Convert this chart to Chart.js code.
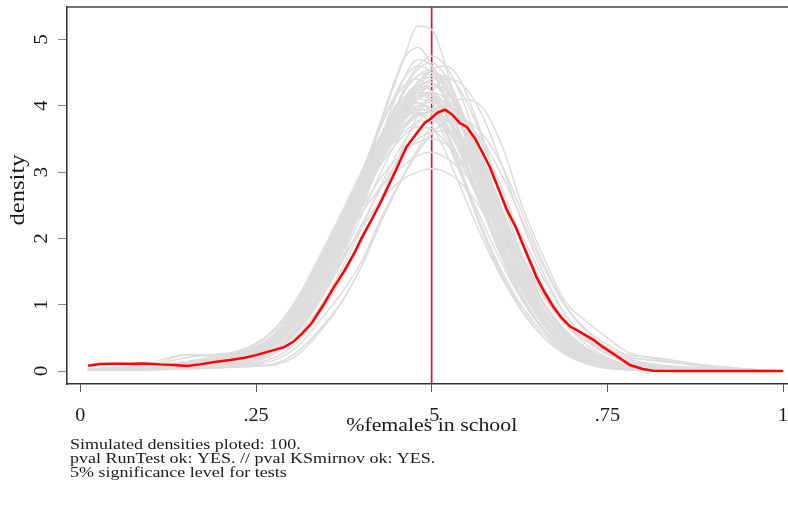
<!DOCTYPE html>
<html>
<head>
<meta charset="utf-8">
<script src="https://cdn.jsdelivr.net/npm/chart.js@4.4.1/dist/chart.umd.min.js"></script>
<style>
  html, body { margin: 0; padding: 0; background: #fff; }
</style>
</head>
<body>
<canvas id="densityChart" width="788" height="505"></canvas>
<script>
// x grid shared by the simulated density curves
const gridX = [0.01, 0.05, 0.10, 0.15, 0.20, 0.25, 0.28, 0.31, 0.34, 0.37, 0.40, 0.43, 0.46, 0.48, 0.50,
  0.52, 0.54, 0.57, 0.60, 0.63, 0.66, 0.69, 0.72, 0.75, 0.78, 0.82, 0.88, 0.95, 1.0];

// simulated densities (a subset of the plotted draws), one row per curve
const simulated = [
  [.03,.04,.06,.12,.20,.37,.55,1.0,1.6,2.2,2.85,3.45,3.9,4.05,3.95,3.7,3.3,2.6,1.8,1.2,.75,.38,.2,.06,.02,.01,.01,0,0],
  [.02,.03,.05,.10,.18,.30,.50,.95,1.55,2.2,2.9,3.6,4.4,4.7,4.6,4.2,3.6,2.75,1.9,1.25,.75,.4,.2,.07,.03,.01,0,0,0],
  [.02,.02,.03,.05,.08,.15,.32,.65,1.15,1.85,2.8,3.8,4.7,5.2,5.15,4.6,3.8,2.8,1.9,1.2,.68,.35,.16,.06,.03,.02,.01,0,0],
  [.03,.03,.04,.07,.12,.22,.42,.85,1.45,2.15,2.95,3.85,4.7,4.88,4.6,4.05,3.45,2.55,1.75,1.1,.62,.32,.15,.06,.03,.02,.01,0,0],
  [.01,.01,.02,.03,.05,.08,.12,.30,.62,1.02,1.58,2.3,2.95,3.35,3.7,3.95,4.1,4.0,3.4,2.45,1.7,1.05,.75,.5,.28,.18,.08,.02,0],
  [.01,.01,.02,.04,.06,.10,.18,.38,.75,1.15,1.65,2.35,2.95,3.3,3.6,3.75,3.8,3.6,3.1,2.35,1.6,1.0,.62,.4,.22,.15,.1,.03,0],
  [.01,.01,.02,.04,.07,.12,.22,.45,.85,1.35,1.95,2.65,3.4,3.85,4.2,4.4,4.35,3.9,3.1,2.2,1.45,.85,.5,.3,.15,.08,.03,.01,0],
  [.01,.02,.03,.05,.09,.18,.35,.70,1.2,1.85,2.6,3.45,4.25,4.6,4.75,4.6,4.2,3.3,2.35,1.5,.9,.48,.24,.1,.05,.02,.01,0,0],
  [.03,.04,.08,.24,.22,.26,.40,.78,1.3,1.95,2.7,3.5,4.2,4.45,4.55,4.3,3.9,3.0,2.1,1.35,.8,.42,.2,.08,.03,.02,.01,0,0],
  [.02,.03,.05,.10,.15,.28,.48,.90,1.45,2.05,2.75,3.45,4.0,4.2,4.15,3.9,3.5,2.75,1.95,1.3,.8,.45,.22,.1,.05,.03,.02,0,0],
  [.03,.04,.06,.12,.20,.33,.50,.90,1.4,2.0,2.6,3.15,3.55,3.68,3.65,3.45,3.15,2.6,2.0,1.4,.9,.55,.3,.14,.07,.04,.02,.01,0],
  [.03,.04,.06,.10,.16,.26,.42,.75,1.15,1.65,2.15,2.6,2.9,3.0,3.05,3.0,2.85,2.45,1.9,1.35,.85,.5,.26,.12,.06,.04,.02,.01,0],
  [.01,.02,.03,.05,.08,.15,.28,.55,.95,1.5,2.15,2.85,3.45,3.75,3.95,4.0,3.9,3.45,2.75,1.95,1.25,.72,.4,.2,.08,.04,.02,.01,0],
  [.02,.02,.04,.07,.12,.22,.42,.82,1.4,2.1,2.9,3.75,4.4,4.6,4.5,4.1,3.55,2.65,1.8,1.12,.63,.33,.15,.06,.03,.02,.01,0,0],
  [.02,.03,.05,.08,.14,.25,.45,.82,1.3,1.9,2.55,3.2,3.7,3.88,3.9,3.8,3.55,3.0,2.35,1.7,1.15,.75,.5,.32,.24,.2,.1,.03,0],
  [.01,.02,.04,.08,.12,.20,.36,.70,1.15,1.8,2.55,3.35,3.95,4.2,4.3,4.25,3.95,3.2,2.35,1.55,.92,.5,.25,.11,.05,.02,.01,0,0],
  [.03,.03,.05,.09,.16,.30,.50,.88,1.35,1.9,2.45,2.95,3.3,3.45,3.5,3.42,3.2,2.75,2.15,1.55,1.02,.62,.35,.18,.09,.05,.02,.01,0],
  [.02,.02,.04,.08,.13,.24,.43,.80,1.32,1.98,2.78,3.6,4.2,4.45,4.5,4.3,3.85,2.95,2.05,1.3,.75,.38,.18,.07,.03,.02,.01,0,0],
  [.02,.03,.08,.20,.26,.32,.52,.98,1.58,2.2,2.9,3.55,3.95,4.05,3.9,3.5,3.0,2.3,1.62,1.05,.62,.34,.17,.08,.04,.02,.01,0,0],
  [.01,.01,.02,.03,.05,.07,.10,.25,.58,1.0,1.58,2.3,2.95,3.3,3.58,3.75,3.78,3.5,2.95,2.25,1.55,.98,.6,.35,.18,.1,.05,.02,0],
  [.02,.03,.06,.11,.18,.30,.52,.95,1.52,2.15,2.85,3.45,3.85,3.95,3.88,3.6,3.2,2.5,1.85,1.25,.75,.42,.2,.09,.04,.02,.01,0,0],
  [.01,.02,.03,.06,.10,.18,.33,.64,1.1,1.72,2.45,3.25,3.9,4.25,4.4,4.45,4.25,3.55,2.6,1.7,1.0,.55,.27,.12,.05,.02,.01,0,0],
  [.03,.04,.06,.10,.20,.35,.55,.95,1.4,1.9,2.38,2.8,3.1,3.25,3.3,3.22,3.05,2.7,2.2,1.65,1.12,.72,.45,.25,.14,.08,.04,.01,0],
  [.02,.02,.04,.08,.14,.26,.47,.86,1.4,2.08,2.85,3.6,4.12,4.3,4.22,3.88,3.38,2.58,1.82,1.18,.7,.37,.17,.07,.03,.02,.01,0,0],
  [.02,.02,.04,.06,.10,.18,.32,.62,1.05,1.6,2.2,2.8,3.28,3.5,3.6,3.62,3.55,3.2,2.65,2.0,1.38,.85,.5,.27,.12,.06,.02,.01,0],
  [.01,.02,.03,.06,.10,.18,.34,.66,1.12,1.76,2.55,3.45,4.2,4.55,4.65,4.45,4.0,3.1,2.15,1.35,.76,.38,.17,.07,.03,.02,.01,0,0],
  [.02,.03,.05,.09,.15,.27,.48,.88,1.42,2.05,2.75,3.4,3.8,3.93,3.95,3.8,3.5,2.8,2.05,1.38,.85,.48,.24,.11,.05,.03,.01,0,0],
  [.02,.04,.12,.25,.24,.20,.32,.60,1.05,1.65,2.35,3.05,3.65,3.95,4.1,4.05,3.8,3.15,2.4,1.7,1.1,.7,.45,.28,.2,.16,.08,.02,0],
  [.02,.03,.05,.10,.17,.35,.58,1.02,1.62,2.25,2.9,3.5,3.95,4.15,4.1,3.85,3.45,2.7,1.9,1.22,.72,.38,.18,.08,.03,.02,.01,0,0],
  [.02,.03,.06,.12,.20,.36,.60,1.05,1.65,2.28,2.95,3.55,4.05,4.3,4.35,4.1,3.6,2.75,1.9,1.2,.7,.36,.17,.07,.03,.02,.01,0,0],
  [.03,.04,.06,.11,.19,.34,.56,.98,1.55,2.18,2.85,3.5,4.0,4.25,4.3,4.15,3.75,2.95,2.1,1.35,.8,.43,.2,.08,.03,.02,.01,0,0],
  [.02,.03,.05,.10,.18,.32,.52,.95,1.5,2.12,2.8,3.4,3.85,4.0,3.95,3.7,3.3,2.55,1.75,1.1,.62,.32,.15,.06,.02,.01,.01,0,0],
  [.02,.03,.05,.09,.17,.30,.50,.90,1.45,2.05,2.7,3.35,3.9,4.15,4.2,4.0,3.6,2.8,1.95,1.25,.72,.38,.18,.07,.03,.02,.01,0,0],
  [.03,.04,.07,.12,.20,.34,.55,.95,1.52,2.15,2.75,3.3,3.7,3.85,3.85,3.7,3.4,2.8,2.1,1.45,.92,.52,.26,.12,.05,.03,.02,0,0],
  [.02,.03,.05,.10,.16,.29,.48,.88,1.42,2.0,2.65,3.3,3.95,4.3,4.45,4.3,3.85,2.95,2.05,1.3,.75,.38,.18,.07,.03,.02,.01,0,0],
  [.02,.03,.05,.09,.15,.27,.46,.85,1.38,1.98,2.65,3.35,4.0,4.35,4.5,4.35,3.95,3.05,2.15,1.38,.8,.42,.2,.08,.03,.02,.01,0,0],
  [.02,.02,.04,.08,.14,.26,.45,.82,1.35,1.95,2.6,3.25,3.85,4.15,4.3,4.2,3.9,3.15,2.3,1.5,.88,.47,.23,.1,.04,.02,.01,0,0],
  [.03,.04,.06,.11,.18,.33,.54,.96,1.5,2.1,2.7,3.25,3.6,3.75,3.78,3.65,3.4,2.85,2.2,1.55,1.0,.6,.33,.16,.07,.04,.02,.01,0],
  [.02,.03,.05,.10,.17,.31,.50,.90,1.45,2.05,2.7,3.35,3.9,4.1,4.05,3.75,3.3,2.5,1.72,1.08,.6,.3,.14,.05,.02,.01,.01,0,0],
  [.02,.02,.04,.08,.14,.25,.43,.80,1.3,1.9,2.6,3.3,3.95,4.35,4.5,4.4,4.0,3.1,2.2,1.42,.82,.43,.21,.09,.04,.02,.01,0,0],
  [.01,.02,.04,.07,.12,.22,.40,.75,1.25,1.85,2.55,3.25,3.85,4.15,4.3,4.25,3.95,3.25,2.45,1.65,1.0,.55,.28,.12,.05,.02,.01,0,0],
  [.02,.03,.05,.09,.16,.28,.48,.86,1.38,1.96,2.6,3.2,3.65,3.85,3.9,3.8,3.55,2.95,2.25,1.55,.98,.58,.31,.15,.06,.03,.01,0,0],
  [.03,.04,.06,.11,.19,.35,.57,1.0,1.58,2.2,2.88,3.5,4.05,4.35,4.45,4.25,3.8,2.85,1.95,1.22,.7,.36,.17,.07,.03,.02,.01,0,0],
  [.01,.02,.04,.07,.12,.20,.36,.70,1.2,1.8,2.5,3.2,3.8,4.1,4.2,4.1,3.8,3.05,2.25,1.5,.9,.5,.25,.11,.05,.03,.01,0,0],
  [.02,.03,.05,.08,.14,.24,.42,.78,1.28,1.88,2.55,3.2,3.75,4.0,4.05,3.95,3.7,3.05,2.35,1.62,1.02,.6,.32,.15,.07,.04,.02,.01,0],
  [.02,.03,.06,.10,.18,.33,.55,.98,1.56,2.2,2.9,3.5,4.0,4.2,4.15,3.85,3.35,2.5,1.7,1.05,.6,.3,.14,.05,.02,.01,0,0,0],
  [.01,.02,.03,.06,.10,.19,.34,.66,1.12,1.72,2.45,3.25,3.95,4.35,4.55,4.6,4.4,3.6,2.6,1.7,1.0,.54,.26,.11,.05,.02,.01,0,0],
  [.02,.03,.05,.09,.15,.27,.46,.85,1.38,1.98,2.65,3.3,3.85,4.1,4.15,3.95,3.6,2.9,2.15,1.45,.9,.5,.25,.11,.05,.03,.01,0,0],
  [.03,.04,.07,.13,.22,.42,.68,1.12,1.72,2.35,3.0,3.6,4.05,4.2,4.05,3.65,3.1,2.2,1.45,.9,.5,.26,.12,.05,.02,.01,.01,0,0],
  [.03,.05,.08,.14,.24,.40,.65,1.08,1.68,2.3,2.95,3.5,3.85,3.9,3.7,3.3,2.8,2.05,1.4,.88,.5,.26,.12,.05,.02,.01,0,0,0],
  [.02,.03,.06,.11,.19,.36,.60,1.05,1.65,2.3,3.0,3.75,4.3,4.4,4.2,3.7,3.05,2.15,1.42,.88,.5,.25,.11,.04,.02,.01,0,0,0],
  [.02,.03,.05,.10,.18,.33,.55,.98,1.58,2.22,2.92,3.6,4.1,4.25,4.05,3.6,3.0,2.2,1.5,.95,.55,.28,.13,.05,.02,.01,0,0,0]
];

// observed density of %females in school
const observedX = [0.011, 0.028, 0.049, 0.070, 0.092, 0.113, 0.134, 0.152, 0.170, 0.191, 0.213, 0.234, 0.250,
  0.270, 0.290, 0.303, 0.315, 0.329, 0.345, 0.360, 0.375, 0.390, 0.400, 0.417, 0.429, 0.450, 0.464, 0.479,
  0.490, 0.498, 0.509, 0.519, 0.530, 0.540, 0.550, 0.562, 0.573, 0.583, 0.592, 0.607, 0.620, 0.630, 0.649,
  0.661, 0.673, 0.685, 0.697, 0.711, 0.730, 0.744, 0.760, 0.782, 0.800, 0.815, 0.850, 0.900, 0.950, 1.000];
const observedY = [0.08, 0.105, 0.11, 0.11, 0.115, 0.10, 0.09, 0.075, 0.10, 0.135, 0.165, 0.20, 0.24,
  0.30, 0.36, 0.44, 0.56, 0.72, 0.98, 1.25, 1.50, 1.78, 2.0, 2.33, 2.58, 3.05, 3.38, 3.59,
  3.74, 3.80, 3.90, 3.94, 3.86, 3.74, 3.68, 3.50, 3.28, 3.07, 2.83, 2.43, 2.16, 1.90, 1.42,
  1.18, 0.97, 0.80, 0.67, 0.59, 0.47, 0.36, 0.25, 0.09, 0.03, 0.005, 0, 0, 0, 0];

const refLineX = 0.5;
const xTicks = [0, 0.25, 0.5, 0.75, 1];
const xTickLabels = ["0", ".25", ".5", ".75", "1"];
const yTicks = [0, 1, 2, 3, 4, 5];
const xTitle = "%females in school";
const yTitle = "density";
const notes = [
  "Simulated densities ploted: 100.",
  "pval RunTest ok: YES. // pval KSmirnov ok: YES.",
  "5% significance level for tests"
];

const X_MIN = -0.019, X_MAX = 1.007;
const Y_MIN = -0.196, Y_MAX = 5.49;

const grayCurves = simulated.map(ys => ({
  data: ys.map((y, i) => ({ x: gridX[i], y })),
  borderColor: "#dddddd",
  borderWidth: 1.5,
  pointRadius: 0,
  cubicInterpolationMode: "monotone",
  order: 1
}));

const observed = {
  data: observedX.map((x, i) => ({ x, y: observedY[i] })),
  borderColor: "#ff0000",
  borderWidth: 2.5,
  pointRadius: 0,
  tension: 0,
  order: 0
};

const refLine = {
  data: [{ x: refLineX, y: Y_MIN }, { x: refLineX, y: Y_MAX }],
  borderColor: "#d4143c",
  borderWidth: 1.6,
  pointRadius: 0,
  order: 2
};

// serif text, widened by `stretch`, optionally turned to read bottom-up
function label(ctx, text, x, y, size, align, upright, stretch = 1.12) {
  ctx.save();
  ctx.translate(x, y);
  if (upright) ctx.rotate(-Math.PI / 2);
  ctx.scale(stretch, 1);
  ctx.font = size + 'px "Liberation Serif"';
  ctx.textAlign = align;
  ctx.fillText(text, 0, 0);
  ctx.restore();
}

// frame top, rotated y labels, axis titles and the note lines
const decorations = {
  id: "decorations",
  afterDraw(chart) {
    const { ctx, chartArea, scales } = chart;
    ctx.save();
    ctx.strokeStyle = "#444";
    ctx.lineWidth = 1.5;
    ctx.beginPath();
    ctx.moveTo(chartArea.left, chartArea.top);
    ctx.lineTo(chartArea.right, chartArea.top);
    ctx.stroke();

    ctx.fillStyle = "#1a1a1a";
    ctx.textBaseline = "middle";
    yTicks.forEach(v => label(ctx, String(v), 42, scales.y.getPixelForValue(v), 19, "center", true));
    label(ctx, yTitle, 18, 190, 22, "center", true);

    ctx.textBaseline = "alphabetic";
    xTicks.forEach((v, i) => label(ctx, xTickLabels[i], scales.x.getPixelForValue(v), 421, 18, "center"));
    label(ctx, xTitle, scales.x.getPixelForValue(0.5), 431, 19.5, "center");

    notes.forEach((line, i) => label(ctx, line, 70, 449 + i * 14, 14.5, "left", false, 1.24));
    ctx.restore();
  }
};

new Chart(document.getElementById("densityChart"), {
  type: "line",
  data: { datasets: [observed, ...grayCurves, refLine] },
  options: {
    responsive: false,
    animation: false,
    events: [],
    layout: { padding: { top: 7, right: 0, left: 0, bottom: 0 } },
    plugins: { legend: { display: false }, tooltip: { enabled: false } },
    scales: {
      x: {
        type: "linear",
        min: X_MIN,
        max: X_MAX,
        afterBuildTicks: s => { s.ticks = xTicks.map(value => ({ value })); },
        afterFit: s => { s.height = 121; },
        ticks: { display: false },
        grid: { drawOnChartArea: false, drawTicks: true, tickLength: 8, color: "#555", lineWidth: 1 },
        border: { display: true, color: "#333", width: 1.5 }
      },
      y: {
        min: Y_MIN,
        max: Y_MAX,
        afterBuildTicks: s => { s.ticks = yTicks.map(value => ({ value })); },
        afterFit: s => { s.width = 67; },
        ticks: { display: false },
        grid: { drawOnChartArea: false, drawTicks: true, tickLength: 9, color: "#888", lineWidth: 1 },
        border: { display: true, color: "#333", width: 1.5 }
      }
    }
  },
  plugins: [decorations]
});
</script>
</body>
</html>
